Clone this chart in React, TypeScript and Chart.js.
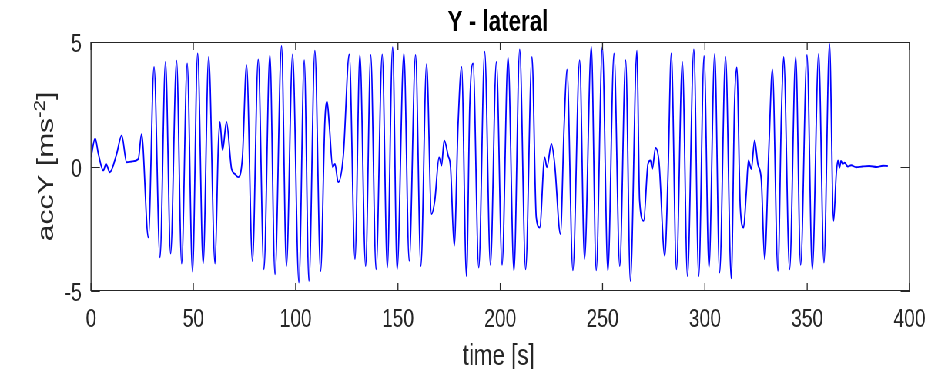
import React, { useEffect, useRef } from "react";
import { Chart, registerables } from "chart.js";

Chart.register(...registerables);

const timeS: number[] = [
  0, 2, 3.6, 6, 7.3, 9.2, 12.5, 15, 17.4, 20,
  23.1, 24.7, 28, 30.8, 33.7, 36.4, 38.9, 41.8, 44.3, 47,
  49.6, 52.1, 54.8, 57.5, 60.6, 62.2, 63, 64.3, 66.2, 68.7,
  70.3, 71.9, 74, 76, 78.9, 81.7, 84.5, 87.4, 89.9, 93.1,
  95.5, 98.5, 101.6, 104.2, 106.5, 109.4, 112.2, 114.3, 115.4, 116.4,
  118.1, 119.2, 120.8, 123.3, 126.2, 129, 131.4, 134.2, 136.7, 139.3,
  142.3, 144.8, 147.4, 149.6, 152.9, 155.5, 158.6, 161.2, 164, 166.4,
  168, 170.1, 171.3, 172.6, 174.5, 175.7, 177.5, 179.4, 181.1, 183.5,
  185.1, 186.7, 189.5, 192.4, 195.2, 198.1, 200.9, 203.8, 206.7, 209.5,
  212.4, 215.5, 217.6, 219.3, 221.7, 222.8, 225, 226.6, 229.4, 231.2,
  232.6, 235.5, 238.8, 241.2, 244.5, 246.9, 249.9, 252.6, 255.6, 258.4,
  261.3, 263.6, 266.8, 268.1, 270.1, 272.2, 273.4, 274.3, 275.9, 277.6,
  280.4, 282, 283.6, 286.1, 289, 291.5, 294.6, 297, 299.6, 302,
  304.8, 307.2, 310.1, 312.9, 314.5, 315.6, 317.3, 318.9, 320.2, 321.3,
  322.7, 324.3, 325.9, 327.6, 329.2, 331.3, 333, 335.7, 337.4, 338.5,
  341.4, 344.4, 346.8, 349.9, 352.5, 355.6, 358.2, 360.9, 362.9, 364.2,
  365.0, 365.8, 366.5, 367.4, 368.3, 369.8, 371.5, 373.9, 377, 380.4, 384, 387, 389.4,
];

const accY: number[] = [
  0.37, 1.13, 0.5, -0.16, 0.1, -0.23, 0.5, 1.25, 0.17, 0.2,
  0.3, 1.3, -2.85, 4.0, -3.65, 4.2, -3.5, 4.25, -3.9, 4.14,
  -4.22, 4.54, -3.9, 4.4, -3.9, 0.78, 1.79, 0.65, 1.79, -0.1,
  -0.3, -0.43, 0.37, 4.07, -3.8, 4.3, -4.13, 4.48, -4.33, 4.84,
  -4.0, 4.5, -4.66, 4.27, -4.6, 4.65, -4.2, 1.85, 2.6, 1.72,
  -0.03, 0.1, -0.63, 0.44, 4.5, -3.72, 4.48, -4.0, 4.48, -4.13,
  4.5, -4.06, 4.79, -4.13, 4.54, -3.79, 4.48, -4.0, 4.11, -1.91,
  -1.37, 0.37, 0.04, 1.05, 0.44, -0.03, -3.19, 1.72, 4.0, -4.4,
  2.46, 4.14, -4.06, 4.61, -3.95, 4.2, -3.95, 4.38, -4.19, 4.7,
  -4.13, 4.4, -2.04, -2.45, 0.37, -0.03, 0.91, 0.1, -2.71, 1.58,
  3.9, -4.17, 4.27, -3.72, 4.81, -4.17, 4.79, -4.19, 4.54, -4.0,
  4.27, -4.6, 4.65, -1.37, -2.18, 0.1, 0.24, -0.1, 0.75, 0.17,
  -3.59, -0.3, 4.54, -4.13, 4.2, -4.4, 4.7, -4.4, 4.44, -4.06,
  4.52, -4.26, 4.4, -4.49, 2.53, 3.98, -1.64, -2.45, -1.1, 0.24,
  -0.1, 1.05, 0.1, -0.56, -3.72, 0.78, 3.9, -4.19, 2.12, 4.4,
  -4.13, 4.4, -3.95, 4.48, -4.13, 4.52, -3.86, 4.92, -2.18, -0.3,
  0.25, -0.05, 0.22, 0.1, 0.15, 0.0, 0.05, -0.03, 0.0, 0.02, -0.02, 0.03, 0.02,
];

const xTicks: number[] = [0, 50, 100, 150, 200, 250, 300, 350, 400];
const yTicks: number[] = [-5, 0, 5];
const titleText = "Y - lateral";
const xLabel = "time [s]";
const yLabelMain = "accY [ms";
const yLabelSup = "-2";
const yLabelEnd = "]";

const DISPLAY_W = 938;
const H = 369;
const SX = 0.77;
const W = Math.round(DISPLAY_W / SX);

const FONT = '"Liberation Sans", Arial, Helvetica, sans-serif';
const AXIS_COLOR = "#262626";

const decorPlugin = {
  id: "matlabDecor",
  afterDraw(chart: any) {
    const { ctx, chartArea: a, scales } = chart;
    const xs = scales.x;
    const ys = scales.y;
    ctx.save();
    ctx.strokeStyle = AXIS_COLOR;
    ctx.lineWidth = 1;
    ctx.beginPath();
    ctx.moveTo(a.left, a.top + 0.5);
    ctx.lineTo(a.right, a.top + 0.5);
    ctx.moveTo(a.left, a.bottom - 0.5);
    ctx.lineTo(a.right, a.bottom - 0.5);
    ctx.stroke();
    ctx.lineWidth = 1.3;
    ctx.beginPath();
    ctx.moveTo(a.left, a.top);
    ctx.lineTo(a.left, a.bottom);
    ctx.moveTo(a.right, a.top);
    ctx.lineTo(a.right, a.bottom);
    ctx.stroke();
    ctx.lineWidth = 1.3;
    ctx.beginPath();
    for (const v of xTicks) {
      const px = xs.getPixelForValue(v);
      ctx.moveTo(px, a.bottom);
      ctx.lineTo(px, a.bottom - 8);
      ctx.moveTo(px, a.top);
      ctx.lineTo(px, a.top + 8);
    }
    ctx.stroke();
    ctx.lineWidth = 1;
    ctx.beginPath();
    for (const v of yTicks) {
      const py = Math.round(ys.getPixelForValue(v)) + 0.5;
      ctx.moveTo(a.left, py);
      ctx.lineTo(a.left + 11.5, py);
      ctx.moveTo(a.right, py);
      ctx.lineTo(a.right - 11.5, py);
    }
    ctx.stroke();

    ctx.fillStyle = AXIS_COLOR;
    ctx.font = `25px ${FONT}`;
    ctx.textBaseline = "alphabetic";
    ctx.textAlign = "center";
    for (const v of xTicks) {
      ctx.fillText(String(v), xs.getPixelForValue(v), 327);
    }
    ctx.textAlign = "right";
    for (const v of yTicks) {
      ctx.fillText(String(v), a.left - 12, ys.getPixelForValue(v) + 10);
    }

    ctx.fillStyle = "#000000";
    ctx.font = `bold 29px ${FONT}`;
    ctx.textAlign = "center";
    ctx.fillText(titleText, (a.left + a.right) / 2 - 3, 31);

    ctx.fillStyle = AXIS_COLOR;
    ctx.font = `29px ${FONT}`;
    ctx.fillText(xLabel, (a.left + a.right) / 2 - 2, 365);

    ctx.save();
    ctx.translate(69, 166.5);
    ctx.rotate(-Math.PI / 2);
    ctx.textAlign = "left";
    const mainFont = `30px ${FONT}`;
    const supFont = `20px ${FONT}`;
    ctx.font = mainFont;
    const w1 = ctx.measureText(yLabelMain).width;
    const w3 = ctx.measureText(yLabelEnd).width;
    ctx.font = supFont;
    const w2 = ctx.measureText(yLabelSup).width;
    const total = w1 + w2 + w3;
    let cx = -total / 2;
    ctx.font = mainFont;
    ctx.fillText(yLabelMain, cx, 0);
    cx += w1;
    ctx.font = supFont;
    ctx.fillText(yLabelSup, cx, -11);
    cx += w2;
    ctx.font = mainFont;
    ctx.fillText(yLabelEnd, cx, 0);
    ctx.restore();

    ctx.restore();
  },
};

export default function App() {
  const canvasRef = useRef<HTMLCanvasElement | null>(null);

  useEffect(() => {
    const canvas = canvasRef.current;
    if (!canvas) return;
    const points = timeS.map((t, i) => ({ x: t, y: accY[i] }));
    const chart = new Chart(canvas, {
      type: "line",
      data: {
        datasets: [
          {
            data: points,
            borderColor: "#0000ff",
            borderWidth: 1.8,
            pointRadius: 0,
            cubicInterpolationMode: "monotone",
            fill: false,
          },
        ],
      },
      options: {
        animation: false,
        responsive: false,
        devicePixelRatio: 1,
        parsing: false,
        layout: {
          padding: {
            left: Math.round(91 / SX * 10) / 10,
            right: W - Math.round(909.5 / SX),
            top: 42,
            bottom: 78,
          },
        },
        scales: {
          x: { type: "linear", min: 0, max: 400, display: false },
          y: { type: "linear", min: -5, max: 5, display: false },
        },
        plugins: {
          legend: { display: false },
          tooltip: { enabled: false },
          title: { display: false },
        },
      },
      plugins: [decorPlugin],
    } as any);
    return () => chart.destroy();
  }, []);

  return (
    <div
      style={{
        position: "fixed",
        left: 0,
        top: 0,
        width: W,
        height: H,
        background: "#ffffff",
        transform: `scaleX(${DISPLAY_W / W})`,
        transformOrigin: "0 0",
      }}
    >
      <canvas ref={canvasRef} width={W} height={H} style={{ display: "block" }} />
    </div>
  );
}
